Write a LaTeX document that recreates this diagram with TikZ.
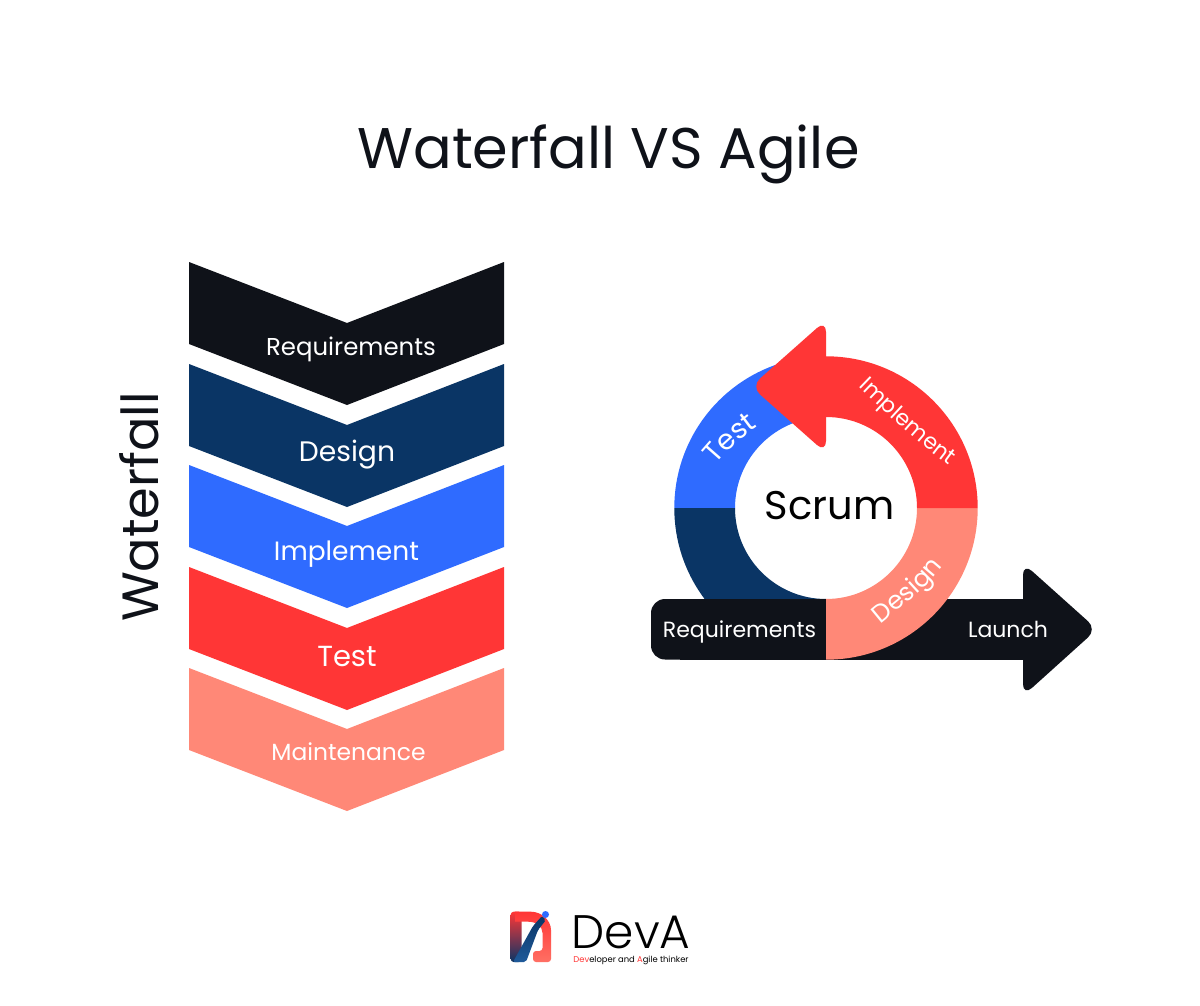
\documentclass[tikz,border=0pt]{standalone}
\usepackage{fontspec}
\setmainfont{Poppins}
\newfontfamily\lightfont{Poppins Light}
\usetikzlibrary{decorations.text}
\definecolor{inkc}{HTML}{0F1219}
\definecolor{navyc}{HTML}{0A3565}
\definecolor{bluec}{HTML}{2F6BFF}
\definecolor{redc}{HTML}{FF3636}
\definecolor{salmc}{HTML}{FF8877}
\definecolor{bandc}{HTML}{1F5A9A}
\tikzset{x=1pt,y=1pt,
 lab/.style={text=white,inner sep=0pt,anchor=base},
 arclab/.style 2 args={decorate,decoration={text along path,text align=center,text={|\fontsize{#1}{#1}\selectfont\color{white}|#2}}}}
\begin{document}
\begin{tikzpicture}
\useasboundingbox (0,0) rectangle (1200,-1006);
\fill[white] (0,0) rectangle (1200,-1006);
\node[inner sep=0pt,anchor=base,text=inkc,font=\fontsize{57.3}{60}\selectfont] (title) at (608.5,-168) {Waterfall VS Agile};
\node[inner sep=0pt,anchor=base,text=inkc,rotate=90,font=\fontsize{51}{60}\selectfont] (wf) at (158.5,-507) {Waterfall};
% chevrons
\foreach \t/\c/\l/\n/\s/\b/\xx in {262/inkc/Requirements/c1/24.4/355.7/351,364/navyc/Design/c2/28.2/461/347,465/bluec/Implement/c3/26.5/560/346.5,567/redc/Test/c4/29/666/347,668/salmc/Maintenance/c5/23.4/760.7/348.5}{
 \fill[\c] (189,-\t) -- (347,-\t-61) -- (504,-\t) -- (504,-\t-82) -- (347,-\t-143) -- (189,-\t-82) -- cycle;
 \node[lab,font=\fontsize{\s}{\s}\selectfont] (\n) at (\xx,-\b) {\l};
}
% scrum ring, lower layers
\begin{scope}[shift={(826,-508)}]
\fill[bluec] (180:151.7) arc (180:90:151.7) -- (90:91) arc (90:180:91) -- cycle;
\fill[navyc] (180:151.7) arc (180:270:151.7) -- (270:91) arc (270:180:91) -- cycle;
\end{scope}
% Launch arrow
\fill[inkc,rounded corners=14pt] (700,-629) -- (700,-599) -- (651,-599) -- (651,-659.5) -- (700,-659.5) -- cycle;
\fill[inkc] (680,-599) rectangle (1030,-659.5);
\fill[inkc,rounded corners=12pt] (1023,-563) -- (1097,-629.3) -- (1023,-696) -- cycle;
\begin{scope}[shift={(826,-508)}]
\fill[salmc] (0:151.7) arc (0:-90:151.7) -- (-90:91) arc (-90:0:91) -- cycle;
\fill[redc] (0:151.7) arc (0:90:151.7) -- (90:91) arc (90:0:91) -- cycle;
\fill[redc,rounded corners=12pt] (0,188) -- (-75,121.5) -- (0,55) -- cycle;
\node[inner sep=0pt,anchor=base,text=black,font=\fontsize{40}{44}\selectfont] (scrum) at (3.5,-11.5) {Scrum};
\end{scope}
\path[arclab={22}{Implement}] (858,-386) .. controls (885,-412) and (915,-441) .. (950,-466);
\path[arclab={28}{Test}] (713,-468) .. controls (725,-451) and (742,-438) .. (761,-424);
\path[arclab={25}{Design}] (880,-625) .. controls (900,-608) and (925,-590) .. (944,-565);
\node[lab,font=\fontsize{22}{22}\selectfont] (req) at (739.5,-637) {Requirements};
\node[lab,font=\fontsize{22}{22}\selectfont] (launch) at (1008,-637) {Launch};
% logo
\shade[top color=redc,bottom color=navyc,rounded corners=3pt] (510.7,-911.7) -- (521.7,-911.7) -- (521.7,-962) -- (510.7,-962) -- cycle;
\shade[top color=redc,bottom color=salmc!70!redc,rounded corners=3pt] (515,-911.7) -- (528,-911.7) .. controls (541,-911.7) and (551,-920) .. (551,-933) -- (551,-962) -- (533,-962) -- (533,-951) -- (542.5,-951) [sharp corners] -- (542.5,-933) .. controls (542.5,-926) and (536,-921.7) .. (528,-921.7) -- (515,-921.7) -- cycle;
\shade[top color=navyc,bottom color=bandc,rounded corners=2pt] (513,-962) -- (533,-926) -- (542,-916) -- (546,-920) -- (538,-930) -- (526,-962) -- cycle;
\fill[bluec] (545.5,-914.5) circle (3.5pt);
\node[inner sep=0pt,anchor=base,text=black,font=\lightfont\fontsize{47}{48}\selectfont] (deva) at (631,-948) {DevA};
\node[inner sep=0pt,anchor=base,text=black,font=\fontsize{8.4}{10}\selectfont] (tag) at (631,-962) {{\color{redc}Dev}eloper and {\color{redc}A}gile thinker};
\end{tikzpicture}
\end{document}
